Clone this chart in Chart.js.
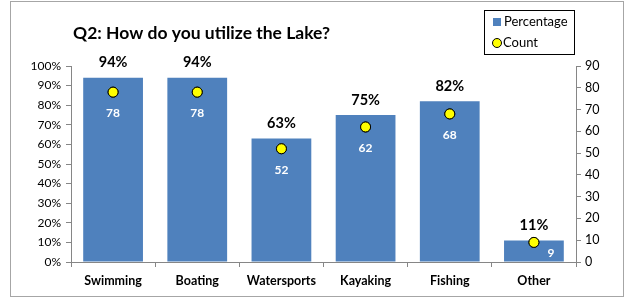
<!DOCTYPE html>
<html>
<head>
<meta charset="utf-8">
<script src="https://cdn.jsdelivr.net/npm/chart.js@4"></script>
<style>
  body { margin: 0; background: #fff; }
  #wrap { width: 626px; height: 299px; position: relative; }
</style>
</head>
<body>
<div id="wrap"><canvas id="chart" width="626" height="299"></canvas></div>
<script>
var categories = ['Swimming', 'Boating', 'Watersports', 'Kayaking', 'Fishing', 'Other'];
var percentage = [94, 94, 63, 75, 82, 11];
var count = [78, 78, 52, 62, 68, 9];

var FONT = 'Lato, "Open Sans", sans-serif';

// frame, title, legend box and the value labels
var extras = {
  id: 'extras',
  beforeDraw: function (chart) {
    var ctx = chart.ctx;
    ctx.save();
    ctx.fillStyle = '#fff';
    ctx.fillRect(0, 0, chart.width, chart.height);
    ctx.strokeStyle = '#a6a6a6';
    ctx.lineWidth = 1;
    ctx.strokeRect(10.5, 1.5, 613, 295);
    ctx.restore();
  },
  afterDraw: function (chart) {
    var ctx = chart.ctx;
    ctx.save();
    ctx.fillStyle = '#000';
    ctx.font = 'bold 17.5px ' + FONT;
    ctx.textBaseline = 'middle';
    ctx.textAlign = 'left';
    ctx.fillText('Q2: How do you utilize the Lake?', 73, 33);

    // legend
    ctx.strokeStyle = '#000';
    ctx.lineWidth = 1;
    ctx.strokeRect(484.5, 10.5, 90, 44);
    ctx.fillStyle = '#4f81bd';
    ctx.fillRect(493, 18, 8, 8);
    ctx.beginPath();
    ctx.arc(497, 43, 4.5, 0, Math.PI * 2);
    ctx.fillStyle = '#ffff00';
    ctx.fill();
    ctx.stroke();
    ctx.fillStyle = '#000';
    ctx.font = '13px ' + FONT;
    ctx.fillText('Percentage', 504, 22);
    ctx.fillText('Count', 503, 43);
    ctx.restore();
  },
  afterDatasetsDraw: function (chart) {
    var ctx = chart.ctx;
    var bars = chart.getDatasetMeta(0).data;
    var pts = chart.getDatasetMeta(1).data;
    var base = chart.scales.y.getPixelForValue(0);
    ctx.save();
    ctx.textAlign = 'center';
    ctx.textBaseline = 'middle';
    ctx.font = 'bold 14.5px ' + FONT;
    ctx.fillStyle = '#000';
    bars.forEach(function (b, i) {
      ctx.fillText(percentage[i] + '%', b.x, b.y - 15);
    });
    ctx.font = 'bold 12px ' + FONT;
    ctx.fillStyle = '#fff';
    pts.forEach(function (p, i) {
      var y = p.y + 21;
      var x = p.x;
      if (y > base - 9) { y = base - 9; x += 17; }
      ctx.fillText(count[i], x, y);
    });
    ctx.restore();
    // redraw points on top of labels
    pts.forEach(function (p) { p.draw(ctx, chart.chartArea); });
  }
};

var config = {
  type: 'bar',
  data: {
    labels: categories,
    datasets: [
      {
        label: 'Percentage',
        data: percentage,
        backgroundColor: '#4f81bd',
        borderWidth: 0,
        barPercentage: 0.71,
        categoryPercentage: 1,
        yAxisID: 'y',
        order: 2
      },
      {
        type: 'line',
        label: 'Count',
        data: count,
        showLine: false,
        pointRadius: 5,
        pointBackgroundColor: '#ffff00',
        pointBorderColor: '#000',
        pointBorderWidth: 1,
        yAxisID: 'y1',
        order: 1
      }
    ]
  },
  options: {
    responsive: false,
    animation: false,
    layout: { padding: { left: 10, right: 10, top: 66, bottom: 8 } },
    plugins: {
      legend: { display: false },
      title: { display: false },
      tooltip: { enabled: false }
    },
    scales: {
      x: {
        grid: { drawOnChartArea: false, drawTicks: true, tickLength: 5, color: '#868686', offset: true },
        border: { color: '#868686' },
        ticks: { color: '#000', font: { family: FONT, size: 12.5, weight: 'bold' }, padding: 6 },
        afterFit: function (s) { s.height = 29; }
      },
      y: {
        position: 'left',
        min: 0,
        max: 100,
        ticks: {
          stepSize: 10,
          color: '#000',
          padding: 5,
          font: { family: FONT, size: 12 },
          callback: function (v) { return v + '%'; }
        },
        grid: { drawOnChartArea: false, drawTicks: true, tickLength: 5, color: '#868686' },
        border: { color: '#868686' },
        afterFit: function (s) { s.width = 61; }
      },
      y1: {
        position: 'right',
        min: 0,
        max: 90,
        ticks: { stepSize: 10, color: '#000', padding: 4, font: { family: FONT, size: 12.5 } },
        grid: { drawOnChartArea: false, drawTicks: true, tickLength: 5, color: '#868686' },
        border: { color: '#868686' },
        afterFit: function (s) { s.width = 40; }
      }
    }
  },
  plugins: [extras]
};

var myChart = new Chart(document.getElementById('chart'), config);
</script>
</body>
</html>
